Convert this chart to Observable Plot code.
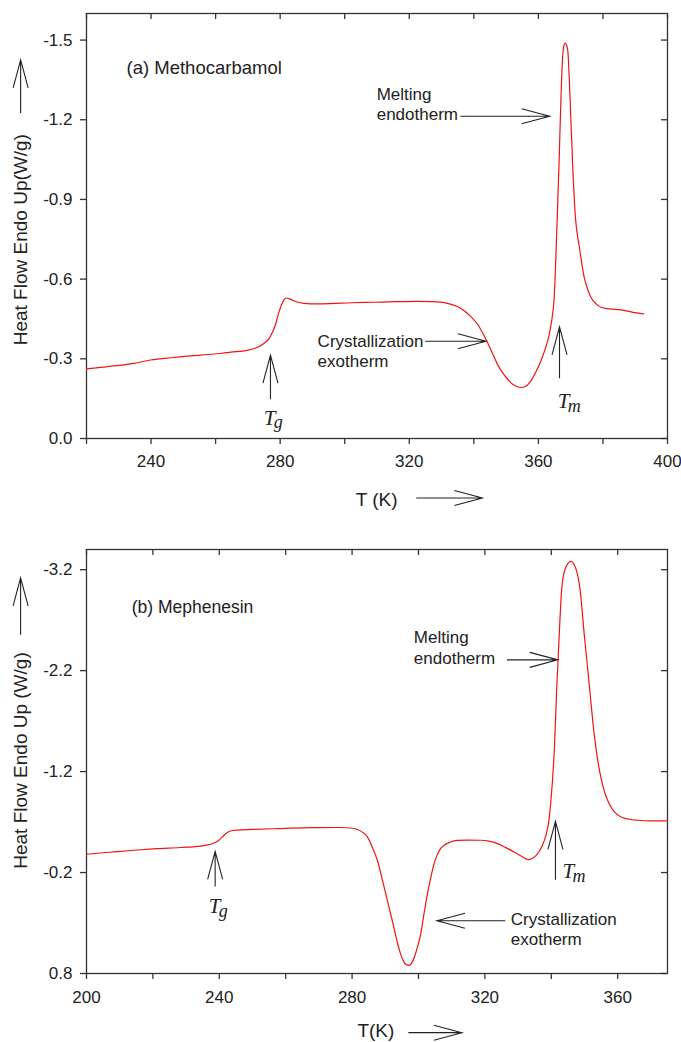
<!DOCTYPE html>
<html><head><meta charset="utf-8">
<script src="https://cdn.jsdelivr.net/npm/d3@7"></script>
<script src="https://cdn.jsdelivr.net/npm/@observablehq/plot@0.6"></script>
<style>html,body{margin:0;padding:0;background:#fff;} svg{display:block;}</style>
</head><body><div id="chart"></div>
<script>
// ---------- (a) Methocarbamol ----------
const tA = [220,226,234.7,239.8,247,255.3,262,264.7,269.8,272,275,276.5,277.6,278.6,279.6,280.5,281.2,282,283.3,285,287.4,291.5,295.7,301.9,309.1,316,322.5,327,331.8,334.9,337,339,341.1,342.7,344.2,345.8,347.3,348.9,350.4,352,353.3,354.6,356,357.7,359.2,360.8,362.2,363.4,364.2,364.9,365.7,366.4,367,367.5,367.9,368.3,368.7,369.1,369.8,370.6,371.4,372.7,374.2,375.3,376.3,377.8,379.4,382,385.6,389,392.6];
const hfA = [-0.262,-0.27,-0.283,-0.2955,-0.305,-0.314,-0.321,-0.325,-0.332,-0.339,-0.358,-0.375,-0.4,-0.43,-0.475,-0.505,-0.522,-0.529,-0.524,-0.515,-0.509,-0.507,-0.508,-0.511,-0.513,-0.515,-0.516,-0.515,-0.509,-0.497,-0.481,-0.46,-0.431,-0.398,-0.362,-0.32,-0.28,-0.248,-0.224,-0.204,-0.196,-0.192,-0.196,-0.217,-0.25,-0.293,-0.34,-0.394,-0.45,-0.531,-0.782,-1.034,-1.285,-1.436,-1.478,-1.489,-1.482,-1.461,-1.285,-1.034,-0.846,-0.72,-0.607,-0.56,-0.531,-0.508,-0.494,-0.488,-0.484,-0.476,-0.469];
const xTicksA = [220,240,260,280,300,320,340,360,380,400];
const yTicksA = [-1.5,-1.2,-0.9,-0.6,-0.3,0];
const titleA = [{x:232.4, y:-1.373, text:"(a) Methocarbamol"}];
const notesA = [
  {x:309.9, y:-1.1975, text:"Melting\nendotherm"},
  {x:291.6, y:-0.2676, text:"Crystallization\nexotherm"}
];
const arrowsA = [
  {x1:336, y1:-1.2115, x2:363.65, y2:-1.2115},
  {x1:325.1, y1:-0.3645, x2:343.9, y2:-0.3645},
  {x1:277.15, y1:-0.146, x2:277.15, y2:-0.312},
  {x1:366.7, y1:-0.225, x2:366.7, y2:-0.418},
  {x1:322.3, y1:0.226, x2:342.8, y2:0.226},
  {x1:199.75, y1:-1.2235, x2:199.75, y2:-1.4235}
];
const symbolsA = [{x:274.9, y:-0.0516, main:"T", sub:"g"}, {x:366.0, y:-0.1146, main:"T", sub:"m"}];
const xLabelA = [{x:303.4, y:0.2537, text:"T (K)"}];
const yLabelA = "Heat Flow Endo Up(W/g)";

// ---------- (b) Mephenesin ----------
const tB = [200,207,214.3,221,228.3,234.4,236.5,238.4,239.7,240.9,242.2,243.4,245.4,250,258.5,268.5,276.6,279.5,281.6,283.2,284.6,286.1,287.6,289.1,290.6,292.2,293.7,294.7,295.6,296.3,297,297.7,298.4,299.5,300.7,301.7,302.7,303.7,304.7,305.7,306.7,307.7,309.5,311.7,315,318.8,321.5,323.8,326.3,328.8,331,333.1,334.5,335.9,337.2,338.4,339.3,339.9,340.9,341.7,342.4,343.1,343.7,344.4,345.1,345.9,346.6,347.4,348.1,348.7,349.9,351.4,352.9,353.9,354.9,356.1,357.4,359,361,363.5,366,370,375];
const hfB = [-0.381,-0.401,-0.421,-0.436,-0.448,-0.462,-0.474,-0.493,-0.515,-0.553,-0.592,-0.612,-0.621,-0.627,-0.636,-0.645,-0.646,-0.641,-0.626,-0.598,-0.553,-0.45,-0.322,-0.13,0.074,0.29,0.503,0.615,0.685,0.712,0.72,0.708,0.668,0.56,0.404,0.2,0.008,-0.15,-0.289,-0.38,-0.44,-0.47,-0.5,-0.518,-0.522,-0.52,-0.508,-0.487,-0.447,-0.404,-0.362,-0.328,-0.345,-0.388,-0.46,-0.57,-0.72,-0.916,-1.411,-2.071,-2.566,-2.995,-3.15,-3.226,-3.266,-3.282,-3.265,-3.21,-3.12,-2.995,-2.566,-2.071,-1.576,-1.33,-1.147,-0.99,-0.883,-0.8,-0.75,-0.728,-0.718,-0.712,-0.711];
const xTicksB = [200,220,240,260,280,300,320,340,360];
const yTicksB = [-3.2,-2.2,-1.2,-0.2,0.8];
const titleB = [{x:213.6, y:-2.774, text:"(b) Mephenesin"}];
const notesB = [
  {x:298.6, y:-2.269, text:"Melting\nendotherm"},
  {x:327.8, y:0.52, text:"Crystallization\nexotherm"}
];
const arrowsB = [
  {x1:326.8, y1:-2.302, x2:342.1, y2:-2.302},
  {x1:326.3, y1:0.282, x2:305.7, y2:0.282},
  {x1:238.9, y1:-0.057, x2:238.9, y2:-0.404},
  {x1:341.4, y1:-0.124, x2:341.4, y2:-0.701},
  {x1:297.1, y1:1.391, x2:313.2, y2:1.391},
  {x1:180.3, y1:-2.5495, x2:180.3, y2:-3.114}
];
const symbolsB = [{x:236.8, y:0.203, main:"T", sub:"g"}, {x:343.4, y:-0.1436, main:"T", sub:"m"}];
const xLabelB = [{x:281.6, y:1.431, text:"T(K)"}];
const yLabelB = "Heat Flow Endo Up (W/g)";

const SANS = "'Liberation Sans', Arial, Helvetica, sans-serif";
const SERIF = "'Liberation Serif', 'Times New Roman', serif";
const INK = "#222";
const LINE = "#333";

function arrowMark(arrows) {
  return function (index, scales) {
    const sc = (scales && typeof scales.x === "function") ? scales : index;
    const g = d3.create("svg:g").attr("fill", "none").attr("stroke", INK).attr("stroke-width", 1.1);
    const L = 28, W = 7.5;
    for (const a of arrows) {
      const x1 = sc.x(a.x1), y1 = sc.y(a.y1), x2 = sc.x(a.x2), y2 = sc.y(a.y2);
      const ang = Math.atan2(y2 - y1, x2 - x1);
      const bx = x2 - L * Math.cos(ang), by = y2 - L * Math.sin(ang);
      const px = -Math.sin(ang) * W, py = Math.cos(ang) * W;
      g.append("path").attr("d", `M${x1},${y1}L${x2},${y2}M${bx + px},${by + py}L${x2},${y2}L${bx - px},${by - py}`);
    }
    return g.node();
  };
}

function panel(o) {
  const data = o.t.map((t, i) => ({t, hf: o.hf[i]}));
  return Plot.plot({
    width: 681,
    height: o.height,
    marginLeft: 86,
    marginRight: 14,
    marginTop: o.marginTop,
    marginBottom: o.marginBottom,
    style: {fontFamily: SANS, fontSize: "16px", color: INK, background: "#fff"},
    x: {domain: o.xDomain},
    y: {domain: o.yDomain},
    marks: [
      Plot.frame({stroke: LINE, strokeWidth: 1.3}),
      Plot.axisX({ticks: o.xTicks, tickSize: 6, tickPadding: o.xPad, tickFormat: d => d % 40 === 0 ? String(d) : "", label: null, fontSize: 17, stroke: LINE, fill: INK, strokeWidth: 1.3}),
      Plot.axisX({anchor: "bottom", frameAnchor: "top", ticks: o.xTicks, tickSize: 6, label: null, fill: "none", stroke: LINE, strokeWidth: 1.3}),
      Plot.axisY({ticks: o.yTicks, tickSize: 6, tickPadding: 8, tickFormat: d => d.toFixed(1), label: null, fontSize: 17, stroke: LINE, fill: INK, strokeWidth: 1.3}),
      Plot.axisY({anchor: "left", frameAnchor: "right", ticks: o.yTicks, tickSize: 6, label: null, fill: "none", stroke: LINE, strokeWidth: 1.3}),
      Plot.line(data, {x: "t", y: "hf", stroke: "#f01414", strokeWidth: 1.2, curve: "monotone-x"}),
      Plot.text(o.title, {x: "x", y: "y", text: "text", textAnchor: "start", lineAnchor: "bottom", fontSize: o.titleSize, fill: INK}),
      Plot.text(o.notes, {x: "x", y: "y", text: "text", textAnchor: "start", lineAnchor: "bottom", lineHeight: 1.2, fontSize: 17, fill: INK}),
      Plot.text(o.xLabel, {x: "x", y: "y", text: "text", textAnchor: "start", lineAnchor: "bottom", fontSize: 19, fill: INK}),
      Plot.text(o.symbols, {x: "x", y: "y", text: "main", textAnchor: "start", lineAnchor: "bottom", fontSize: 21, fontStyle: "italic", fontFamily: SERIF, fill: INK}),
      Plot.text(o.symbols, {x: "x", y: "y", text: "sub", textAnchor: "start", lineAnchor: "bottom", dx: 10, dy: 3.5, fontSize: 18, fontStyle: "italic", fontFamily: SERIF, fill: INK}),
      Plot.text([o.yLabel], {text: d => d, frameAnchor: "left", dx: -60, dy: o.yLabelDy, rotate: -90, textAnchor: "middle", lineAnchor: "bottom", fontSize: 19, fill: INK}),
      arrowMark(o.arrows)
    ]
  });
}

const root = document.getElementById("chart");
root.append(panel({
  t: tA, hf: hfA, xDomain: [220, 400], yDomain: [0, -1.6], xTicks: xTicksA, yTicks: yTicksA,
  height: 520, marginTop: 13, marginBottom: 82, xPad: 10,
  title: titleA, titleSize: 18.5,
  notes: notesA, arrows: arrowsA, symbols: symbolsA, xLabel: xLabelA, yLabel: yLabelA, yLabelDy: 13.7
}));
root.append(panel({
  t: tB, hf: hfB, xDomain: [200, 375], yDomain: [0.8, -3.4], xTicks: xTicksB, yTicks: yTicksB,
  height: 522, marginTop: 29, marginBottom: 69, xPad: 11,
  title: titleB, titleSize: 17.5,
  notes: notesB, arrows: arrowsB, symbols: symbolsB, xLabel: xLabelB, yLabel: yLabelB, yLabelDy: -1
}));
</script></body></html>
